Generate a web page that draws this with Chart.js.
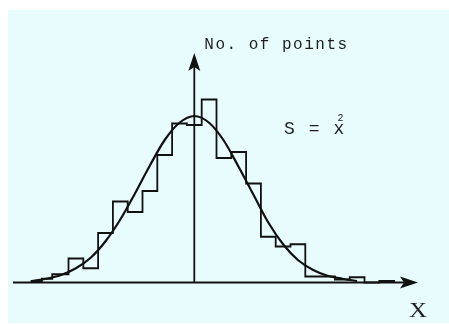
<!DOCTYPE html>
<html>
<head>
<meta charset="utf-8">
<title>Histogram with fitted curve</title>
<script src="https://cdn.jsdelivr.net/npm/chart.js@4/dist/chart.umd.min.js"></script>
<style>
  html, body { margin: 0; padding: 0; background: #fff; }
  canvas { display: block; }
</style>
</head>
<body>
<canvas id="histChart" width="449" height="324"></canvas>
<script>
// Histogram bins, in bin-width units centred on the vertical axis
const binEdges = [-11, -10.3, -9.6, -8.5, -7.5, -6.5, -5.5, -4.5, -3.5, -2.5, -1.5, -0.5,
    0.5, 1.5, 2.5, 3.5, 4.5, 5.5, 6.5, 7.5, 8.5, 9.5, 10.5, 11.5, 12.5, 13.5];
const binCounts = [1, 2.5, 5.5, 16, 9.5, 33, 54, 47, 61, 85, 106, 105,
    122, 83, 87, 66, 30.5, 24, 25.5, 4, 4, 2, 3.5, 0, 1];

// Smooth curve laid over the histogram
const curveX = [-11, -10, -9, -8, -7, -6, -5, -4, -3, -2, -1, 0,
    1, 2, 3, 4, 5, 6, 7, 8, 9, 10, 11];
const curveY = [1, 2.5, 5, 9.5, 16.5, 27.5, 42, 59.5, 78, 95, 106.5, 111,
    106.5, 94.5, 77, 58.5, 40, 25.5, 15, 8.5, 4.5, 2.5, 1];

// Axis ranges
const xRange = [-12.25, 15.115];
const yRange = [0, 153];

const yAxisLabel = 'No. of points';
const formulaText = 'S = x';
const formulaMark = '2';
const xAxisLabel = 'X';

const ink = '#111111';

function buildStepPoints(edges, counts) {
    const pts = [{ x: edges[0], y: 0 }];
    counts.forEach((c, i) => pts.push({ x: edges[i], y: c }));
    pts.push({ x: edges[edges.length - 1], y: 0 });
    return pts;
}

// Filled arrow head with a notched back, pointing along (dx, dy)
function drawArrowHead(ctx, tipX, tipY, dx, dy) {
    const len = 18, half = 6, notch = 4;
    const px = -dy, py = dx;
    ctx.beginPath();
    ctx.moveTo(tipX, tipY);
    ctx.lineTo(tipX - dx * len + px * half, tipY - dy * len + py * half);
    ctx.lineTo(tipX - dx * (len - notch), tipY - dy * (len - notch));
    ctx.lineTo(tipX - dx * len - px * half, tipY - dy * len - py * half);
    ctx.closePath();
    ctx.fill();
}

const sketchPlugin = {
    id: 'sketchAxes',
    beforeDraw(chart) {
        const ctx = chart.ctx;
        ctx.save();
        ctx.fillStyle = '#ffffff';
        ctx.fillRect(0, 0, chart.width, chart.height);
        ctx.fillStyle = '#e8fbfd';
        ctx.fillRect(8, 10, chart.width - 8, chart.height - 11);
        ctx.restore();
    },
    afterDatasetsDraw(chart) {
        const ctx = chart.ctx;
        const area = chart.chartArea;
        const xs = chart.scales.x;
        const ys = chart.scales.y;
        const baseY = ys.getPixelForValue(0);
        const axisX = xs.getPixelForValue(0);

        ctx.save();
        ctx.strokeStyle = ink;
        ctx.fillStyle = ink;
        ctx.lineWidth = 1.8;

        // horizontal axis
        ctx.beginPath();
        ctx.moveTo(area.left, baseY);
        ctx.lineTo(area.right - 10, baseY);
        ctx.stroke();
        drawArrowHead(ctx, area.right, baseY, 1, 0);

        // vertical axis
        ctx.beginPath();
        ctx.moveTo(axisX, baseY);
        ctx.lineTo(axisX, area.top + 10);
        ctx.stroke();
        drawArrowHead(ctx, axisX, area.top, 0, -1);

        // labels
        ctx.fillStyle = '#1e1e1e';
        ctx.textBaseline = 'alphabetic';
        ctx.textAlign = 'left';
        ctx.font = '16px "Courier New", "Liberation Mono", monospace';
        ctx.letterSpacing = '1.5px';
        ctx.fillText(yAxisLabel, axisX + 10, 48.5);

        ctx.font = '18px "Courier New", "Liberation Mono", monospace';
        ctx.letterSpacing = '1.6px';
        ctx.fillText(formulaText, 284, 133.5);
        ctx.letterSpacing = '0px';
        ctx.font = '10px "Liberation Mono", monospace';
        ctx.textAlign = 'center';
        ctx.fillText(formulaMark, 340.5, 121);

        ctx.font = '20px "Liberation Serif", serif';
        ctx.textAlign = 'left';
        ctx.translate(409, 317);
        ctx.scale(1.25, 1);
        ctx.fillText(xAxisLabel, 0, 0);
        ctx.restore();
    }
};

new Chart(document.getElementById('histChart'), {
    type: 'line',
    data: {
        datasets: [
            {
                label: 'histogram',
                data: buildStepPoints(binEdges, binCounts),
                stepped: 'before',
                borderColor: ink,
                borderWidth: 1.8,
                pointRadius: 0,
                fill: false,
                clip: false
            },
            {
                label: 'curve',
                data: curveX.map((x, i) => ({ x, y: curveY[i] })),
                cubicInterpolationMode: 'monotone',
                borderColor: ink,
                borderWidth: 2.2,
                pointRadius: 0,
                fill: false,
                clip: false
            }
        ]
    },
    options: {
        responsive: false,
        animation: false,
        events: [],
        layout: { padding: { left: 13, right: 31, top: 53, bottom: 41.5 } },
        plugins: {
            legend: { display: false },
            tooltip: { enabled: false }
        },
        scales: {
            x: { type: 'linear', display: false, min: xRange[0], max: xRange[1] },
            y: { display: false, min: yRange[0], max: yRange[1] }
        }
    },
    plugins: [sketchPlugin]
});
</script>
</body>
</html>
